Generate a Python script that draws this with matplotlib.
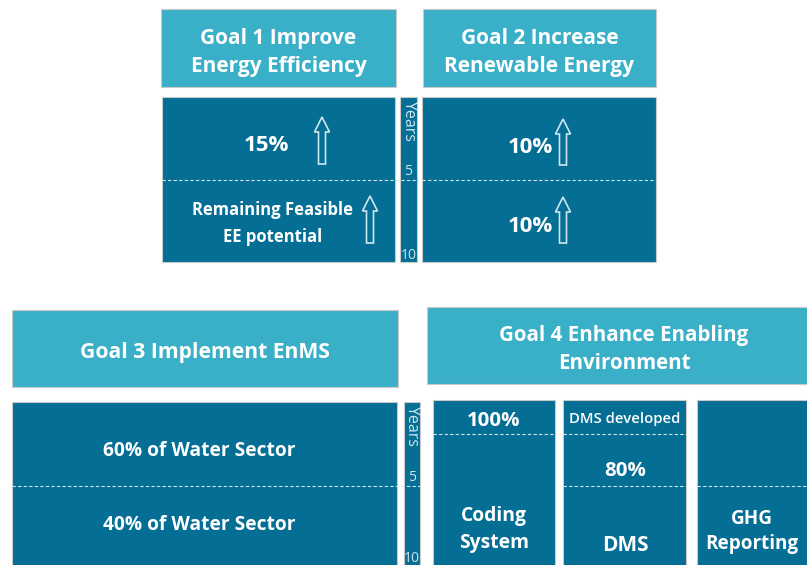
import matplotlib.pyplot as plt
from matplotlib.patches import Rectangle, FancyArrow

# text content
goal_titles = ["Goal 1 Improve\nEnergy Efficiency", "Goal 2 Increase\nRenewable Energy",
               "Goal 3 Implement EnMS", "Goal 4 Enhance Enabling\nEnvironment"]
goal1_cells = ["15%", "Remaining Feasible\nEE potential"]
goal2_cells = ["10%", "10%"]
goal3_cells = ["60% of Water Sector", "40% of Water Sector"]
goal4_cols = [["100%", "Coding\nSystem"], ["DMS developed", "80%", "DMS"], ["GHG\nReporting"]]
year_labels = ["Years", "5", "10"]

LIGHT = "#3aafc8"
DARK = "#046e94"
EDGE = "#c9c9c9"
LINE = "#cfe6ee"

plt.rcParams['font.family'] = ['Open Sans', 'DejaVu Sans']

fig = plt.figure(figsize=(8.07, 5.65), dpi=100)
ax = fig.add_axes([0, 0, 1, 1])
ax.set_xlim(0, 807)
ax.set_ylim(565, 0)
ax.axis('off')


def box(x0, y0, x1, y1, color, edge=EDGE):
    ax.add_patch(Rectangle((x0, y0), x1 - x0, y1 - y0, facecolor=color, edgecolor=edge, lw=0.8))


def dash(x0, x1, y):
    ax.plot([x0, x1], [y, y], color=LINE, lw=0.8, ls=(0, (3, 2)))


def label(x, y, s, size=15, color="white", weight="bold", ls=1.45, **kw):
    # small downward nudge: va='center' sits a bit high for this font
    ax.text(x, y + 2.5, s, ha="center", va="center", fontsize=size, color=color,
            fontweight=weight, linespacing=ls, **kw)


def arrow(x, y_bot, y_top):
    ax.add_patch(FancyArrow(x, y_bot, 0, y_top - y_bot, width=7, head_width=15,
                            head_length=15, length_includes_head=True,
                            facecolor=DARK, edgecolor=LINE, lw=1.2))


def years_bar(x0, x1, y0, y1, y_mid):
    box(x0, y0, x1, y1, DARK)
    xc = (x0 + x1) / 2
    ax.text(xc + 0.5, y0 + 3, year_labels[0], rotation=270, ha="center", va="top",
            fontsize=11.5, color=LINE)
    ax.text(xc, y_mid - 1, year_labels[1], ha="center", va="bottom", fontsize=10, color=LINE)
    ax.text(xc, y1 + 1, year_labels[2], ha="center", va="bottom", fontsize=10, color=LINE)


# headers
box(161, 9, 396, 87, LIGHT)
label(278.5, 50, goal_titles[0])
box(423, 9, 656, 87, LIGHT)
label(539.5, 50, goal_titles[1])
box(12, 310, 398, 387, LIGHT)
label(205, 350, goal_titles[2], size=15.2)
box(427, 307, 807, 384, LIGHT)
label(624, 347, goal_titles[3], size=14.8)

# goal 1
box(162, 97, 395, 262, DARK)
dash(162, 418, 180)
label(266, 143, goal1_cells[0], size=16)
label(273, 221, goal1_cells[1], size=12, ls=1.6)
arrow(322, 164, 117)
arrow(370, 243, 196)
years_bar(400, 417, 97, 262, 180)

# goal 2
box(422, 97, 656, 262, DARK)
dash(422, 656, 180)
label(530, 145, goal2_cells[0], size=16)
label(530, 224, goal2_cells[1], size=16)
arrow(563, 165, 119)
arrow(563, 243, 197)

# goal 3
box(12, 402, 397, 570, DARK)
dash(12, 420, 486)
label(199, 448, goal3_cells[0], size=13.8)
label(199, 523, goal3_cells[1], size=13.8)
years_bar(404, 420, 402, 565, 486)

# goal 4 columns
box(433, 400, 555, 570, DARK)
dash(433, 555, 434)
label(494, 419, goal4_cols[0][0], size=14.7)
label(494, 527, goal4_cols[0][1], size=13.9, ls=1.47)

box(563, 400, 686, 570, DARK)
dash(563, 686, 434)
dash(563, 686, 486)
label(625, 417, goal4_cols[1][0], size=10.7, weight="semibold")
label(625, 468, goal4_cols[1][1], size=14.7)
label(625, 543, goal4_cols[1][2], size=15)

box(697, 400, 812, 570, DARK)
dash(697, 807, 486)
label(752, 529, goal4_cols[2][0], size=13.6, ls=1.3)

fig.savefig("out.png", dpi=100)
